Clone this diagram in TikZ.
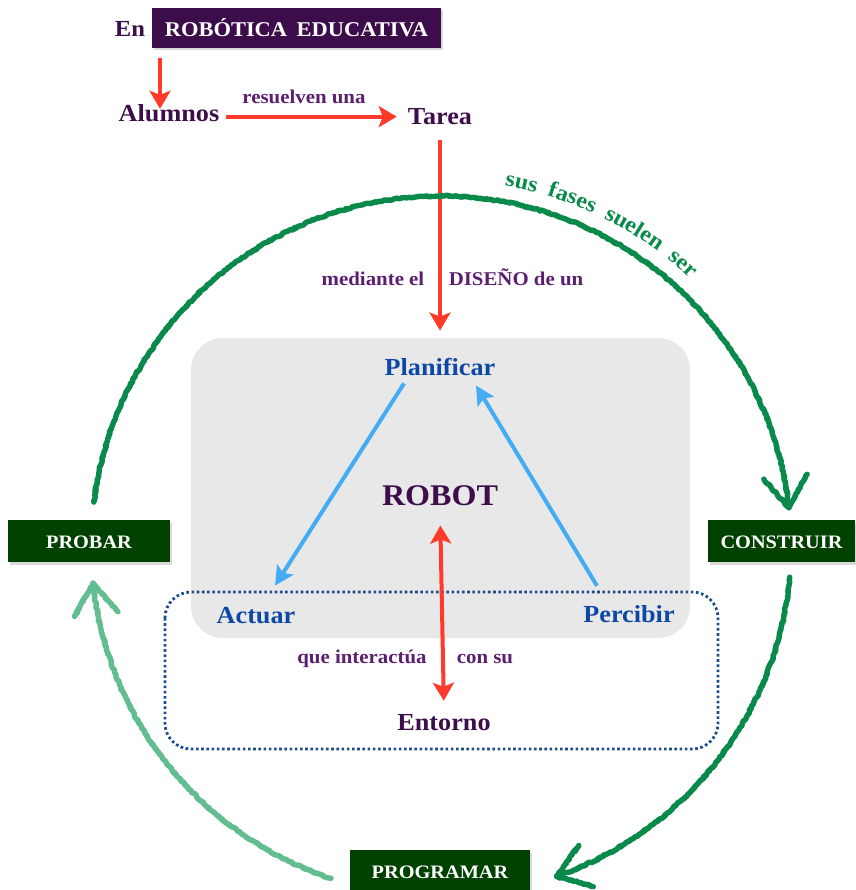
\documentclass[tikz,border=0pt]{standalone}
\usepackage{fontspec}
\setmainfont[FakeStretch=1.07]{Liberation Serif}
\usetikzlibrary{arrows.meta,calc,shadows,decorations.pathmorphing,decorations.text}

\definecolor{edupurple}{HTML}{3D0C4A}
\definecolor{darkpurple}{HTML}{3D0E4B}
\definecolor{labelpurple}{HTML}{5C1F70}
\definecolor{planblue}{HTML}{0E48A5}
\definecolor{skyblue}{HTML}{46ABF5}
\definecolor{arrred}{HTML}{FF3A2A}
\definecolor{boxgreen}{HTML}{024200}
\definecolor{arcgreen}{HTML}{0A8A4A}
\definecolor{palegreen}{HTML}{62BD90}
\definecolor{dotblue}{HTML}{1B4C8E}
\definecolor{panelgrey}{HTML}{E8E8E8}

\newcommand\fsMain{\fontsize{24.5}{28}\selectfont\bfseries}
\newcommand\fsBig{\fontsize{30}{34}\selectfont\bfseries}
\newcommand\fsLab{\fontsize{19.5}{23}\selectfont\bfseries}
\newcommand\fsBox{\fontsize{19}{22}\selectfont\bfseries}
\newcommand\fsEdu{\fontsize{21}{24}\selectfont\bfseries}
\newcommand\fsArc{\fontsize{22.5}{26}\selectfont\bfseries}

\begin{document}
\begin{tikzpicture}[x=1pt,y=-1pt,
  title/.style={text=darkpurple, font=\fsMain, inner sep=2pt, anchor=base},
  lab/.style={text=labelpurple, font=\fsLab, inner sep=2pt, anchor=base},
  phase/.style={text=planblue, font=\fsMain, inner sep=2pt, anchor=base},
  gbox/.style={fill=boxgreen, text=white, font=\fsBox, inner sep=0pt,
    text height=14pt, text depth=0pt, minimum height=42pt,
    drop shadow={shadow xshift=2pt, shadow yshift=-2.5pt, opacity=0.3}},
  edubox/.style={fill=edupurple, text=white, font=\fsEdu, inner sep=0pt,
    text height=17pt, text depth=0pt, minimum height=40pt, minimum width=289pt,
    drop shadow={shadow xshift=2pt, shadow yshift=-2.5pt, opacity=0.3}},
  redarrow/.style={draw=arrred, line width=4pt,
    -{Stealth[length=18pt, width=21pt, inset=4pt]}},
  redboth/.style={draw=arrred, line width=4pt,
    {Stealth[length=18pt, width=21pt, inset=4pt]}-{Stealth[length=18pt, width=21pt, inset=4pt]}},
  bluearrow/.style={draw=skyblue, line width=4pt,
    -{Stealth[length=19pt, width=19pt, inset=4pt]}},
  chalk/.style={line width=5.4pt, line cap=round, line join=round, decorate,
    decoration={random steps, segment length=2.5pt, amplitude=0.8pt}},
  chalkfuzz/.style={line width=3pt, line cap=round, line join=round, decorate,
    decoration={random steps, segment length=2pt, amplitude=1.7pt}},
]
\useasboundingbox (0,0) rectangle (855,890);
\pgfmathsetseed{17}

% robot panel and environment frame
\fill[panelgrey, rounded corners=32pt] (191,338) rectangle (690,638);
\draw[dotblue, line width=2.8pt, dash pattern=on 2.6pt off 2.6pt, rounded corners=26pt]
  (165,592) rectangle (718,749);

% header
\node[title, font=\fontsize{23}{26}\selectfont\bfseries] (en) at (130,37) {En};
\node[edubox] (edu) at (296.5,28) {ROBÓTICA\hspace{0.45em}EDUCATIVA};
\node[title] (alumnos) at (169,122) {Alumnos};
\node[title] (tarea) at (440,125) {Tarea};
\node[lab] (resuelven) at (304,104) {resuelven una};
\node[lab] (mediante) at (373,285) {mediante el};
\node[lab] (diseno) at (516,285) {DISEÑO de un};

% robot cycle
\node[phase] (plan) at (440,375) {Planificar};
\node[title, font=\fsBig] (robot) at (440,505) {ROBOT};
\node[phase] (actuar) at (256,623) {Actuar};
\node[phase] (percibir) at (629,622) {Percibir};
\node[lab] (interactua) at (362,663) {que interactúa};
\node[lab] (consu) at (485,663) {con su};
\node[title] (entorno) at (444,730) {Entorno};

% phase boxes
\node[gbox, minimum width=162pt] (probar) at (89,541) {PROBAR};
\node[gbox, minimum width=147pt] (construir) at (781.5,541) {CONSTRUIR};
\node[gbox, minimum width=180pt] (programar) at (440,871) {PROGRAMAR};

% red connectors
\draw[redarrow, shorten <=19pt, shorten >=-6pt] ([xshift=30pt]en.south) -- ([xshift=-9pt]alumnos.north);
\draw[redarrow, shorten <=5pt, shorten >=9pt] ([yshift=-3pt]alumnos.east) -- ([yshift=-3pt]alumnos.east -| tarea.west);
\draw[redarrow, shorten <=13pt, shorten >=25pt] (tarea.south) -- (plan.north);
\draw[redboth, shorten <=18pt, shorten >=11pt] (robot.south) -- (entorno.north);

% blue connectors
\draw[bluearrow] ([xshift=-36pt, yshift=-6pt]plan.south) -- ([xshift=19pt, yshift=19pt]actuar.north);
\draw[bluearrow] ([xshift=-32pt, yshift=17pt]percibir.north) -- ([xshift=36pt, yshift=-8pt]plan.south);

% phase cycle drawn as chalk arcs: a solid stroke plus a rough overstroke,
% each arc split into short pieces so the decoration stays stable
\coordinate (C) at (441,546);
\foreach \s in {chalk, chalkfuzz}{
  \foreach \a/\b in {-172.8/-131.2, -131.2/-89.6, -89.6/-47.9, -47.9/-6.3}
    \draw[\s, draw=arcgreen] ($(C)+(\a:350)$) arc[start angle=\a, end angle=\b, radius=350];
  \draw[\s, draw=arcgreen] ($(C)+(-6.3:350)+(-61.3:38)$) -- ($(C)+(-6.3:350)$) -- ($(C)+(-6.3:350)+(-131.3:38)$);
  \foreach \a/\b in {5.1/37.9, 37.9/70.7}
    \draw[\s, draw=arcgreen] ($(C)+(\a:350)$) arc[start angle=\a, end angle=\b, radius=350];
  \draw[\s, draw=arcgreen] ($(C)+(70.7:350)+(15.7:38)$) -- ($(C)+(70.7:350)$) -- ($(C)+(70.7:350)+(-54.3:38)$);
  \foreach \a/\b in {108.3/141.1, 141.1/173.9}
    \draw[\s, draw=palegreen] ($(C)+(\a:350)$) arc[start angle=\a, end angle=\b, radius=350];
  \draw[\s, draw=palegreen] ($(C)+(173.9:350)+(118.9:38)$) -- ($(C)+(173.9:350)$) -- ($(C)+(173.9:350)+(48.9:38)$);
}

% caption along the cycle
\path[decorate, decoration={text along path, text color=arcgreen,
    text align={fit to path stretching spaces},
    text={|\fsArc|sus fases suelen ser}}]
  ($(C)+(-80:366)$) arc[start angle=-80, end angle=-47, radius=366];
\end{tikzpicture}
\end{document}
